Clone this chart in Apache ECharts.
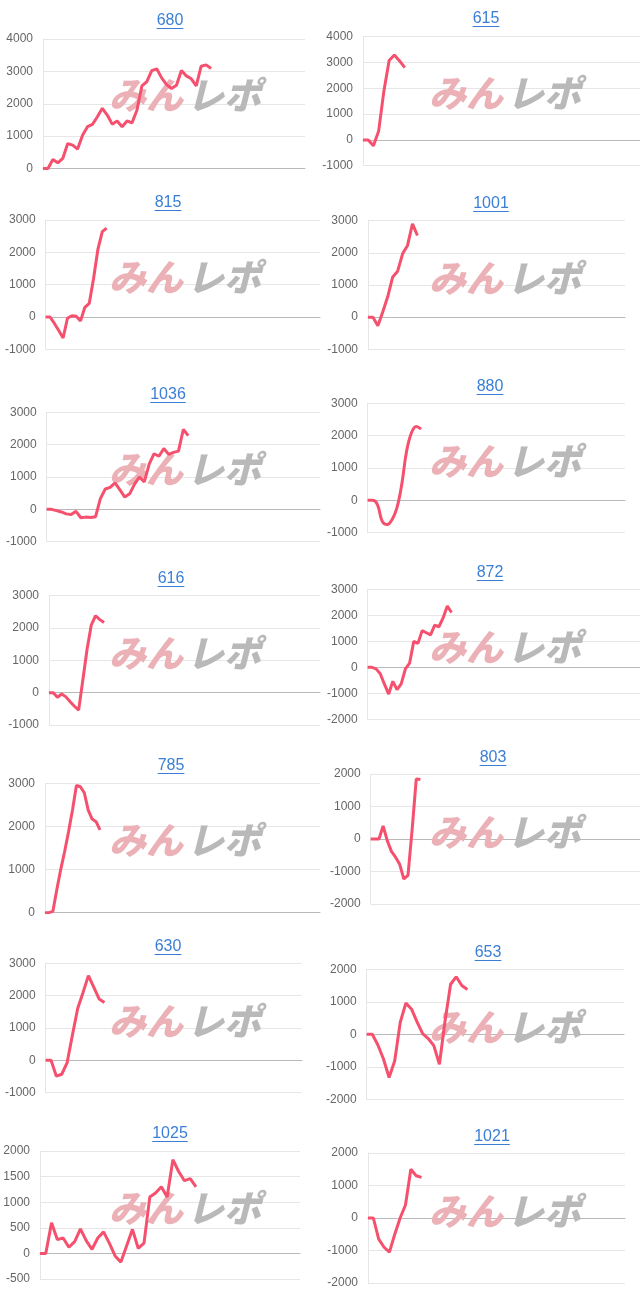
<!DOCTYPE html>
<html><head><meta charset="utf-8">
<script src="https://cdn.jsdelivr.net/npm/echarts@6/dist/echarts.min.js"></script>
<style>html,body{margin:0;padding:0;background:#fff}#c{width:640px;height:1303px}</style>
</head><body><div id="c"></div>
<script>
// ---- data ----
const titles = ['680','615','815','1001','1036','880','616','872','785','803','630','653','1025','1021'];
const s680 = [0,0,280,175,310,770,720,600,1030,1290,1360,1600,1860,1650,1370,1470,1290,1470,1410,1800,2550,2680,3020,3080,2800,2590,2470,2570,3030,2860,2770,2550,3160,3200,3090];
const s615 = [0,0,-230,350,1900,3080,3290,3060,2800];
const s815 = [0,0,-200,-420,-650,-40,40,20,-120,300,420,1200,2100,2640,2750];
const s1001 = [0,0,-270,170,640,1250,1430,1970,2230,2900,2540];
const s1036 = [0,0,-40,-80,-140,-160,-60,-260,-240,-250,-230,330,630,680,820,600,380,480,780,1000,850,1400,1720,1640,1880,1700,1760,1800,2470,2280];
const s880 = [0,0,-130,-650,-750,-600,-240,480,1510,2080,2280,2200];
const s616 = [0,0,-140,-40,-130,-280,-420,-540,400,1350,2100,2380,2260,2170];
const s872 = [0,0,-60,-250,-650,-1030,-540,-860,-640,-60,160,1000,920,1410,1330,1250,1620,1560,1900,2360,2110];
const s785 = [0,0,30,530,1000,1420,1880,2380,2950,2920,2780,2380,2170,2110,1920];
const s803 = [0,0,0,400,-50,-380,-560,-780,-1230,-1120,290,1850,1830];
const s630 = [0,0,-490,-430,-80,780,1610,2100,2620,2260,1900,1790];
const s653 = [0,0,-330,-760,-1330,-820,370,960,780,380,20,-130,-350,-920,400,1540,1770,1500,1380];
const s1025 = [0,0,600,270,300,120,230,480,250,80,300,420,200,-50,-170,150,470,100,200,1100,1180,1300,1100,1830,1600,1420,1460,1300];
const s1021 = [0,0,-650,-900,-1050,-500,0,400,1500,1300,1250];
const seriesValues = [s680,s615,s815,s1001,s1036,s880,s616,s872,s785,s803,s630,s653,s1025,s1021];
const yMin  = [0,-1000,-1000,-1000,-1000,-1000,-1000,-2000,0,-2000,-1000,-2000,-500,-2000];
const yMax  = [4000,4000,3000,3000,3000,3000,3000,3000,3000,2000,3000,2000,2000,2000];
const yStep = [1000,1000,1000,1000,1000,1000,1000,1000,1000,1000,1000,1000,500,1000];
const slotCount = [54,54,64,53,57,54,65,66,71,66,49,47,46,49];
const smoothFlag = [false,false,false,false,false,true,false,false,false,false,false,false,false,false];

// ---- layout (pixels) ----
const layout = [
  {l:43,  r:305, t:39,    b:168.5, tx:170, ty:21},
  {l:363, r:640, t:36.7,  b:165.7, tx:486, ty:19},
  {l:45.7,r:320, t:220,   b:349.3, tx:168, ty:203},
  {l:368, r:625, t:220.7, b:349.3, tx:491, ty:204},
  {l:46.7,r:320, t:412.3, b:541.7, tx:168, ty:395},
  {l:367.7,r:625,t:403.3, b:532.7, tx:490, ty:387},
  {l:49,  r:320, t:595.7, b:725,   tx:171, ty:579},
  {l:367.7,r:640,t:589.3, b:719.3, tx:490, ty:573},
  {l:45,  r:320, t:783.3, b:912.7, tx:171, ty:766},
  {l:370.7,r:640,t:774,   b:904,   tx:493, ty:758},
  {l:45.7,r:302, t:963.3, b:1092.7,tx:168, ty:947},
  {l:366.7,r:624,t:969.3, b:1099.3,tx:488, ty:953},
  {l:40,  r:300, t:1151,  b:1279,  tx:170, ty:1134},
  {l:368, r:625, t:1153,  b:1283,  tx:492, ty:1137}
];

const LINE = '#f5506e';
const grid=[], xAxis=[], yAxis=[], series=[], graphic=[];
titles.forEach((tt,i)=>{
  const L = layout[i];
  grid.push({left:L.l, top:L.t, width:L.r-L.l, height:L.b-L.t, containLabel:false});
  const cats = []; for(let k=0;k<slotCount[i];k++) cats.push(String(k+1));
  xAxis.push({type:'category', gridIndex:i, data:cats, boundaryGap:false,
    axisLine:{show:true,onZero:true,lineStyle:{color:'#b9b9b9',width:1}},
    axisTick:{show:false}, axisLabel:{show:false}, splitLine:{show:false}});
  yAxis.push({type:'value', gridIndex:i, min:yMin[i], max:yMax[i], interval:yStep[i],
    axisLine:{show:true,lineStyle:{color:'#e6e6e6'}}, axisTick:{show:false},
    axisLabel:{color:'#666', fontSize:12, margin:10, fontFamily:'"Liberation Sans", Arial, sans-serif',
      formatter:(v)=>String(v)},
    splitLine:{show:true,lineStyle:{color:'#e6e6e6',width:1}}});
  series.push({type:'line', xAxisIndex:i, yAxisIndex:i, data:seriesValues[i], symbol:'none',
    smooth:smoothFlag[i]?0.4:false, z:5, lineStyle:{color:LINE,width:3}, silent:true, animation:false});
  // watermark
  const cx = L.l < 200 ? 186 : 506;
  const cy = L.ty + 74;
  graphic.push({type:'text', z:1, x:cx-40, y:cy, silent:true,
    style:{text:'みん', fill:'#ebb1b6', font:'italic 900 37px "Noto Sans CJK JP"', align:'center', verticalAlign:'middle', textAlign:'center', textVerticalAlign:'middle'}});
  graphic.push({type:'text', z:1, x:cx+38, y:cy, silent:true,
    style:{text:'レポ', fill:'#b9b9b9', font:'italic 900 37px "Noto Sans CJK JP"', align:'center', verticalAlign:'middle', textAlign:'center', textVerticalAlign:'middle'}});
  // title
  graphic.push({type:'text', z:10, x:L.tx, y:L.ty, silent:true,
    style:{text:tt, fill:'#3a7fd5', font:'16px "Liberation Sans", Arial, sans-serif', align:'center', verticalAlign:'middle', textAlign:'center', textVerticalAlign:'middle'}});
  const w = tt.length*8.9;
  graphic.push({type:'line', z:10, silent:true, shape:{x1:L.tx-w/2, y1:L.ty+7.5, x2:L.tx+w/2, y2:L.ty+7.5},
    style:{stroke:'#3a7fd5', lineWidth:1}});
});

const chart = echarts.init(document.getElementById('c'), null, {renderer:'canvas'});
chart.setOption({animation:false, backgroundColor:'#fff', grid, xAxis, yAxis, series, graphic});
</script>
</body></html>
